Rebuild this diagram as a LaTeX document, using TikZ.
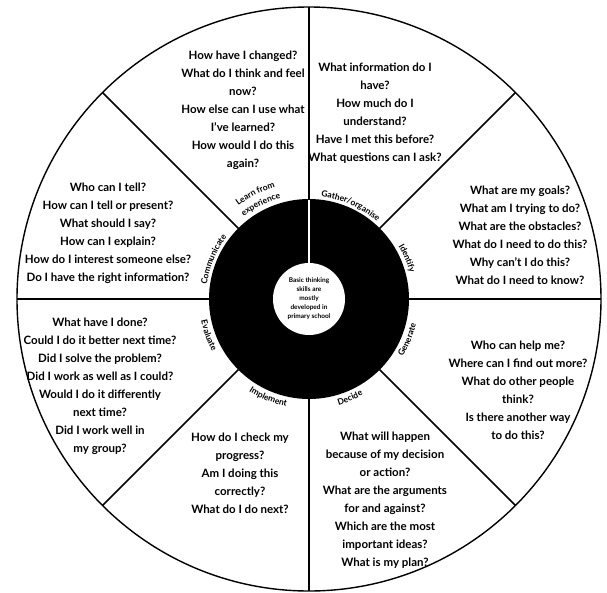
\documentclass[tikz,border=0pt]{standalone}
\usepackage{fontspec}
\setmainfont{Lato}[BoldFont={Lato Bold}]
\usepackage{tikz}
\usetikzlibrary{decorations.text}
\tikzset{
  qtext/.style={align=center, font=\fontsize{11.5}{18}\selectfont\bfseries, inner sep=0pt},
  spoke/.style={line width=1.6pt, draw=black},
  rim/.style={line width=1.4pt, draw=black},
  coretext/.style={align=center, font=\fontsize{6.5}{9}\selectfont\bfseries, inner sep=0pt},
  ringlabel/.style={decorate, decoration={text along path, text align=center}}
}
\newcommand{\ringfont}{\fontsize{8.5}{9}\selectfont\bfseries}

\begin{document}
\begin{tikzpicture}[x=1pt, y=1pt]
    \useasboundingbox (-309,-293) rectangle (298,299);
    % wheel
    \draw[rim] (0,0) circle[radius=292];
    \foreach \a in {0,45,...,315}
      \draw[spoke] (\a:100) -- (\a:292);
    \fill[black] (0,0) circle[radius=100];
    \draw[white, line width=1.2pt] (90:35) -- (90:99);
    \node[circle, fill=white, minimum size=72pt, inner sep=0pt] (core) at (0,0) {};
    \node[coretext] (coretxt) at (core) {Basic thinking\\skills are\\mostly\\developed in\\primary school};
    % stage names round the ring
    \path[ringlabel, decoration={text={|\ringfont|Learn from}}] (142:117) arc[start angle=142, end angle=92, radius=117];
    \path[ringlabel, decoration={text={|\ringfont|experience}}] (142:105) arc[start angle=142, end angle=92, radius=105];
    \path[ringlabel, decoration={text={|\ringfont|Gather/organise}}] (89:103) arc[start angle=89, end angle=43, radius=103];
    \path[ringlabel, decoration={text={|\ringfont|Identify}}] (45:104) arc[start angle=45, end angle=0, radius=104];
    \path[ringlabel, decoration={text={|\ringfont|Generate}}] (-45:110) arc[start angle=-45, end angle=0, radius=110];
    \path[ringlabel, decoration={text={|\ringfont|Decide}}] (-90:110) arc[start angle=-90, end angle=-45, radius=110];
    \path[ringlabel, decoration={text={|\ringfont|Implement}}] (-135:110) arc[start angle=-135, end angle=-90, radius=110];
    \path[ringlabel, decoration={text={|\ringfont|Evaluate}}] (-185:110) arc[start angle=-185, end angle=-135, radius=110];
    \path[ringlabel, decoration={text={|\ringfont|Communicate}}] (180:103) arc[start angle=180, end angle=135, radius=103];
    % questions in each sector
    \node[qtext] (learn) at (-66,189) {How have I changed?\\What do I think and feel\\now?\\How else can I use what\\I've learned?\\How would I do this\\again?};
    \node[qtext] (gather) at (66,186) {What information do I\\have?\\How much do I\\understand?\\Have I met this before?\\What questions can I ask?};
    \node[qtext] (identify) at (211,64) {What are my goals?\\What am I trying to do?\\What are the obstacles?\\What do I need to do this?\\Why can't I do this?\\What do I need to know?};
    \node[qtext] (generate) at (209,-91) {Who can help me?\\Where can I find out more?\\What do other people\\think?\\Is there another way\\to do this?};
    \node[qtext] (decide) at (76,-201) {What will happen\\because of my decision\\or action?\\What are the arguments\\for and against?\\Which are the most\\important ideas?\\What is my plan?};
    \node[qtext] (implement) at (-69,-174) {How do I check my\\progress?\\Am I doing this\\correctly?\\What do I do next?};
    \node[qtext] (evaluate) at (-209,-87) {What have I done?\\Could I do it better next time?\\Did I solve the problem?\\Did I work as well as I could?\\Would I do it differently\\next time?\\Did I work well in\\my group?};
    \node[qtext] (communicate) at (-201,66) {Who can I tell?\\How can I tell or present?\\What should I say?\\How can I explain?\\How do I interest someone else?\\Do I have the right information?};
\end{tikzpicture}
\end{document}
